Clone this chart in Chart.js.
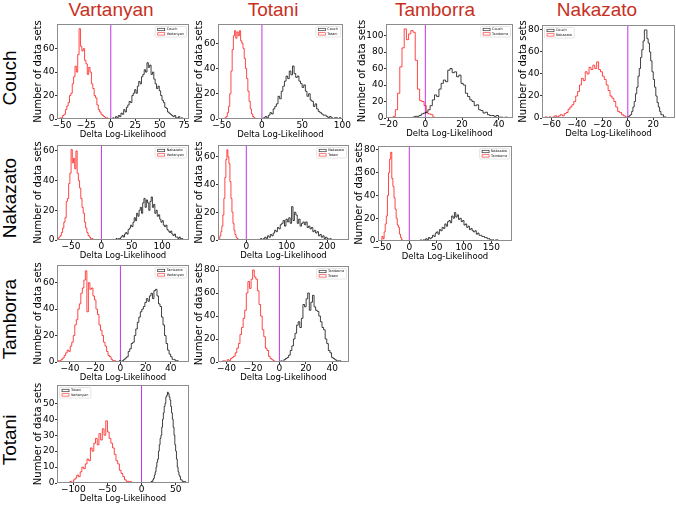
<!DOCTYPE html>
<html><head><meta charset="utf-8">
<script src="https://cdn.jsdelivr.net/npm/chart.js@4.4.1/dist/chart.umd.min.js"></script>
<style>
html,body{margin:0;padding:0;background:#fff;}
#wrap{position:relative;width:676px;height:505px;overflow:hidden;background:#fff;}
#wrap canvas{position:absolute;}
.col{position:absolute;top:0;font-family:"Liberation Sans",sans-serif;font-size:19px;line-height:19px;color:#c8301e;transform:translateX(-50%);white-space:nowrap;}
.row{position:absolute;font-family:"Liberation Sans",sans-serif;font-size:19px;line-height:19px;color:#000;white-space:nowrap;transform:translate(-50%,-50%) rotate(-90deg);}
</style></head><body><div id="wrap"></div>
<script>
// ---- labels ----
const columnModels = ['Vartanyan', 'Totani', 'Tamborra', 'Nakazato'];
const rowModels = ['Couch', 'Nakazato', 'Tamborra', 'Totani'];
const xTitle = 'Delta Log-Likelihood';
const yTitle = 'Number of data sets';

// ---- histogram data: bins = [first edge, bin width], counts per bin ----
// Couch (row) vs Vartanyan (column)
const couchVartanyanRedBins = [-52, 1.4];
const couchVartanyanRed = [1,1,3,4,8,11,14,20,22,30,36,45,40,55,77,62,58,60,50,47,38,44,40,30,26,20,18,12,8,6,4,3,2,1,1];
const couchVartanyanBlackBins = [2, 1.4];
const couchVartanyanBlack = [1,0,2,1,3,2,5,4,8,6,10,12,15,14,20,22,25,22,28,32,30,36,38,42,40,48,44,46,38,40,34,30,26,28,24,20,16,14,10,9,6,5,4,3,2,3,1,1,2,0,1];
const couchVartanyanXTicks = [-50, -25, 0, 25, 50, 75];
const couchVartanyanYTicks = [0, 20, 40, 60];

// Couch vs Totani
const couchTotaniRedBins = [-46, 1.5];
const couchTotaniRed = [1,2,5,10,20,38,55,66,70,64,69,66,70,62,60,56,48,40,32,22,14,8,4,2,1];
const couchTotaniBlackBins = [2, 2];
const couchTotaniBlack = [1,2,1,3,5,4,8,10,12,18,16,22,26,30,34,32,38,35,42,36,33,34,30,28,25,27,22,18,20,15,14,10,12,8,6,5,4,3,3,2,1,2,1,0,1,1,0,1];
const couchTotaniXTicks = [-50, 0, 50, 100];
const couchTotaniYTicks = [0, 20, 40, 60];

// Couch vs Tamborra
const couchTamborraRedBins = [-17.5, 1.2];
const couchTamborraRed = [2,10,30,62,85,108,95,102,106,104,70,35,21,20,15,6,5,4,1];
const couchTamborraBlackBins = [-7, 1.2];
const couchTamborraBlack = [1,2,2,3,5,6,7,10,15,22,28,26,35,42,46,44,58,60,55,56,50,52,42,40,30,26,22,20,15,16,10,9,6,7,4,3,3,2,3,1,1,0,1];
const couchTamborraXTicks = [-20, 0, 20, 40];
const couchTamborraYTicks = [0, 20, 40, 60, 80, 100];

// Couch vs Nakazato
const couchNakazatoRedBins = [-65, 1.5];
const couchNakazatoRed = [1,0,1,0,1,2,1,2,3,2,4,5,8,10,12,15,20,24,30,36,34,42,40,46,44,48,45,51,44,42,38,35,30,25,20,18,15,10,6,5,3,2,1];
const couchNakazatoBlackBins = [0, 1];
const couchNakazatoBlack = [1,2,3,6,10,15,22,28,38,45,55,62,70,80,80,72,68,60,52,42,35,28,20,14,10,6,3,3,1,1];
const couchNakazatoXTicks = [-60, -40, -20, 0, 20];
const couchNakazatoYTicks = [0, 20, 40, 60, 80];

// Nakazato vs Vartanyan
const nakazatoVartanyanRedBins = [-72, 2];
const nakazatoVartanyanRed = [1,2,3,5,8,12,15,26,28,38,45,61,52,55,48,60,45,40,35,28,22,18,12,8,5,3,2,1,1];
const nakazatoVartanyanBlackBins = [24, 2];
const nakazatoVartanyanBlack = [1,0,1,1,2,3,2,4,5,4,7,8,10,9,12,15,13,18,16,20,22,18,25,28,22,27,25,20,26,29,22,24,18,20,16,17,14,12,13,10,9,10,7,6,5,6,4,3,4,2,2,1,2,1,1];
const nakazatoVartanyanXTicks = [-50, 0, 50, 100];
const nakazatoVartanyanYTicks = [0, 20, 40, 60];

// Nakazato vs Totani
const nakazatoTotaniRedBins = [-68, 2.5];
const nakazatoTotaniRed = [1,3,6,10,18,30,45,58,65,60,55,42,30,20,12,7,4,2,1];
const nakazatoTotaniBlackBins = [35, 3.5];
const nakazatoTotaniBlack = [1,0,1,2,1,3,2,4,3,5,7,6,9,8,11,12,14,10,15,13,16,12,24,14,20,18,12,15,10,12,13,11,13,9,10,8,9,6,7,5,6,3,4,2,3,1,2,1,0,1];
const nakazatoTotaniXTicks = [0, 100, 200];
const nakazatoTotaniYTicks = [0, 20, 40, 60];

// Nakazato vs Tamborra
const nakazatoTamborraRedBins = [-50, 2];
const nakazatoTamborraRed = [4,2,8,15,22,40,60,72,78,55,48,38,28,20,14,12,6,3,1];
const nakazatoTamborraBlackBins = [20, 2.5];
const nakazatoTamborraBlack = [1,0,1,1,2,1,3,2,3,5,4,7,8,6,10,9,12,11,15,13,17,18,16,22,20,25,21,23,19,20,17,18,14,15,12,13,10,11,9,8,9,6,7,5,5,4,4,3,3,2,2,1,1,1,0,1,1];
const nakazatoTamborraXTicks = [-50, 0, 50, 100, 150];
const nakazatoTamborraYTicks = [0, 20, 40, 60, 80];

// Tamborra vs Vartanyan
const tamborraVartanyanRedBins = [-49.4, 1.2];
const tamborraVartanyanRed = [1,1,2,3,5,7,9,8,12,15,20,28,32,40,44,52,56,62,69,38,60,55,56,50,47,40,36,28,24,20,15,12,8,5,4,2,1,1];
const tamborraVartanyanBlackBins = [-1, 1.2];
const tamborraVartanyanBlack = [1,0,1,2,3,4,8,10,14,15,20,25,30,34,38,40,42,45,48,46,50,52,48,54,55,50,44,42,34,28,20,14,9,6,4,2,2,1,1];
const tamborraVartanyanXTicks = [-40, -20, 0, 20, 40];
const tamborraVartanyanYTicks = [0, 20, 40, 60];

// Tamborra vs Totani
const tamborraTotaniRedBins = [-43, 1.2];
const tamborraTotaniRed = [1,1,0,2,1,3,4,5,8,12,16,24,30,38,45,60,70,64,72,80,74,72,62,50,40,28,22,12,10,5,3,2,1];
const tamborraTotaniBlackBins = [1, 1.2];
const tamborraTotaniBlack = [1,0,2,3,4,6,10,14,20,25,32,35,30,38,50,48,55,60,45,52,58,48,45,44,40,35,30,28,20,16,10,8,4,3,2,1,1,1];
const tamborraTotaniXTicks = [-40, -20, 0, 20, 40];
const tamborraTotaniYTicks = [0, 20, 40, 60, 80];

// Totani vs Vartanyan
const totaniVartanyanRedBins = [-105, 2.5];
const totaniVartanyanRed = [1,0,2,3,5,4,7,10,9,12,15,14,22,20,25,28,24,31,27,34,30,39,32,28,25,22,18,14,12,8,6,4,2,1,1,1];
const totaniVartanyanBlackBins = [14, 1.2];
const totaniVartanyanBlack = [1,0,2,3,5,7,10,13,15,20,24,28,30,35,40,44,48,50,54,55,57,56,54,52,48,44,40,35,30,24,20,15,10,7,5,4,2,2,1,1,0,1];
const totaniVartanyanXTicks = [-100, -50, 0, 50];
const totaniVartanyanYTicks = [0, 10, 20, 30, 40, 50];

// ---- panel table (layout only, built from the arrays above) ----
const panels = [
  {r:0,c:0, red:[couchVartanyanRedBins,couchVartanyanRed], black:[couchVartanyanBlackBins,couchVartanyanBlack], xt:couchVartanyanXTicks, yt:couchVartanyanYTicks, xr:[-55,80], ymax:81, box:[57,24,189,119], side:'right', gap:25},
  {r:0,c:1, red:[couchTotaniRedBins,couchTotaniRed], black:[couchTotaniBlackBins,couchTotaniBlack], xt:couchTotaniXTicks, yt:couchTotaniYTicks, xr:[-54.6,100.7], ymax:75.3, box:[218,24,343,119], side:'right', gap:25},
  {r:0,c:2, red:[couchTamborraRedBins,couchTamborraRed], black:[couchTamborraBlackBins,couchTamborraBlack], xt:couchTamborraXTicks, yt:couchTamborraYTicks, xr:[-21.4,47.7], ymax:114, box:[386,24,513,118], side:'right', gap:30},
  {r:0,c:3, red:[couchNakazatoRedBins,couchNakazatoRed], black:[couchNakazatoBlackBins,couchNakazatoBlack], xt:couchNakazatoXTicks, yt:couchNakazatoYTicks, xr:[-67.5,37.1], ymax:84.5, box:[542,25,675,118], side:'left', gap:25},
  {r:1,c:0, red:[nakazatoVartanyanRedBins,nakazatoVartanyanRed], black:[nakazatoVartanyanBlackBins,nakazatoVartanyanBlack], xt:nakazatoVartanyanXTicks, yt:nakazatoVartanyanYTicks, xr:[-73.2,144.3], ymax:64, box:[57,145,189,240], side:'right', gap:25},
  {r:1,c:1, red:[nakazatoTotaniRedBins,nakazatoTotaniRed], black:[nakazatoTotaniBlackBins,nakazatoTotaniBlack], xt:nakazatoTotaniXTicks, yt:nakazatoTotaniYTicks, xr:[-70,254], ymax:68.4, box:[218,145,349,240], side:'right', gap:25},
  {r:1,c:2, red:[nakazatoTamborraRedBins,nakazatoTamborraRed], black:[nakazatoTamborraBlackBins,nakazatoTamborraBlack], xt:nakazatoTamborraXTicks, yt:nakazatoTamborraYTicks, xr:[-57.2,187.8], ymax:83.5, box:[378,146,512,241], side:'right', gap:25},
  {r:2,c:0, red:[tamborraVartanyanRedBins,tamborraVartanyanRed], black:[tamborraVartanyanBlackBins,tamborraVartanyanBlack], xt:tamborraVartanyanXTicks, yt:tamborraVartanyanYTicks, xr:[-50.3,54.4], ymax:73.4, box:[57,265,189,362], side:'right', gap:25},
  {r:2,c:1, red:[tamborraTotaniRedBins,tamborraTotaniRed], black:[tamborraTotaniBlackBins,tamborraTotaniBlack], xt:tamborraTotaniXTicks, yt:tamborraTotaniYTicks, xr:[-46.4,52.6], ymax:83.5, box:[218,266,349,362], side:'right', gap:25},
  {r:3,c:0, red:[totaniVartanyanRedBins,totaniVartanyanRed], black:[totaniVartanyanBlackBins,totaniVartanyanBlack], xt:totaniVartanyanXTicks, yt:totaniVartanyanYTicks, xr:[-124,69.6], ymax:61.5, box:[57,385,189,483], side:'left', gap:25}
];

const colHeaderX = [111, 273, 435, 597];
const rowLabelY = [78, 198, 319, 440];

Chart.defaults.font.family = '"DejaVu Sans", sans-serif';

function fmt(v) { return String(v).replace('-', '\u2212'); }

function stepPoints(bins, counts, lo, hi) {
  const e0 = bins[0], w = bins[1];
  const pts = [{x: lo, y: 0}, {x: e0, y: 0}];
  counts.forEach((c, i) => pts.push({x: e0 + i * w, y: c}));
  const end = e0 + counts.length * w;
  pts.push({x: end, y: 0});
  if (hi > end) pts.push({x: hi, y: 0});
  return pts;
}

const framePlugin = {
  id: 'frame',
  afterDatasetsDraw(chart) {
    const {ctx, chartArea: a} = chart;
    ctx.save();
    ctx.strokeStyle = '#8c8c8c';
    ctx.lineWidth = 1;
    ctx.strokeRect(Math.round(a.left) + 0.5, Math.round(a.top) + 0.5, Math.round(a.right - a.left) - 1, Math.round(a.bottom - a.top) - 1);
    ctx.restore();
  }
};

const miniLegend = {
  id: 'miniLegend',
  afterDraw(chart, args, opts) {
    if (!opts.labels) return;
    const {ctx, chartArea: a} = chart;
    ctx.save();
    ctx.font = '3.4px "DejaVu Sans"';
    const tw = Math.max(...opts.labels.map(t => ctx.measureText(t).width));
    const w = 2.5 + 7 + 2 + tw + 2.5, h = 10.5;
    const x = opts.side === 'left' ? a.left + 2.5 : a.right - 2.5 - w;
    const y = a.top + 2.5;
    ctx.fillStyle = 'rgba(255,255,255,0.85)';
    ctx.strokeStyle = '#d4d4d4';
    ctx.lineWidth = 0.6;
    ctx.beginPath();
    if (ctx.roundRect) ctx.roundRect(x, y, w, h, 1.2); else ctx.rect(x, y, w, h);
    ctx.fill(); ctx.stroke();
    opts.labels.forEach((t, i) => {
      const yy = y + 3 + i * 4.4;
      ctx.strokeStyle = opts.colors[i];
      ctx.lineWidth = 0.7;
      ctx.strokeRect(x + 2.5, yy - 1.2, 7, 2.4);
      ctx.fillStyle = '#000';
      ctx.textBaseline = 'middle';
      ctx.textAlign = 'left';
      ctx.fillText(t, x + 11.5, yy);
    });
    ctx.restore();
  }
};

const wrap = document.getElementById('wrap');
const blackColor = 'rgba(0,0,0,0.75)';
const redColor = 'rgba(255,0,0,0.72)';
const zeroColor = '#c433e8';

columnModels.forEach((m, i) => {
  const d = document.createElement('div');
  d.className = 'col'; d.textContent = m; d.style.left = colHeaderX[i] + 'px';
  wrap.appendChild(d);
});
rowModels.forEach((m, i) => {
  const d = document.createElement('div');
  d.className = 'row'; d.textContent = m; d.style.left = '9px'; d.style.top = rowLabelY[i] + 'px';
  wrap.appendChild(d);
});

panels.forEach(p => {
  const [L, T, R, B] = p.box;
  const wy = p.gap, hx = 20, padTop = 6, padRight = 8;
  const cl = L - wy, ct = T - padTop;
  const w = (R - L) + wy + padRight;
  const h = (B - T) + padTop + hx;
  const cv = document.createElement('canvas');
  cv.width = w; cv.height = h;
  cv.style.left = cl + 'px'; cv.style.top = ct + 'px';
  cv.style.width = w + 'px'; cv.style.height = h + 'px';
  wrap.appendChild(cv);
  const rEnd = p.red[0][0] + p.red[1].length * p.red[0][1];
  const bEnd = p.black[0][0] + p.black[1].length * p.black[0][1];
  const lo = Math.min(p.red[0][0], p.black[0][0]);
  const hi = Math.max(rEnd, bEnd);
  new Chart(cv, {
    type: 'line',
    data: {datasets: [
      {label: rowModels[p.r], data: stepPoints(p.black[0], p.black[1], lo, hi), borderColor: blackColor, borderWidth: 1, stepped: true, pointRadius: 0, fill: false},
      {label: columnModels[p.c], data: stepPoints(p.red[0], p.red[1], lo, hi), borderColor: redColor, borderWidth: 1, stepped: true, pointRadius: 0, fill: false},
      {label: 'zero', data: [{x: 0, y: 0}, {x: 0, y: p.ymax}], borderColor: zeroColor, borderWidth: 1, pointRadius: 0, fill: false}
    ]},
    options: {
      responsive: false, animation: false,
      layout: {padding: {left: 0, top: padTop, right: padRight, bottom: 0}},
      plugins: {
        legend: {display: false}, tooltip: {enabled: false},
        miniLegend: {labels: [rowModels[p.r], columnModels[p.c]], colors: ['#333', '#ff4040'], side: p.side}
      },
      scales: {
        x: {
          type: 'linear', bounds: 'data', min: p.xr[0], max: p.xr[1],
          afterFit: s => { s.height = hx; },
          afterBuildTicks: s => { s.ticks = p.xt.map(v => ({value: v})); },
          ticks: {autoSkip: false, maxRotation: 0, minRotation: 0, padding: 0, color: '#000', font: {size: 9, lineHeight: 1}, callback: v => fmt(v)},
          grid: {drawOnChartArea: false, drawTicks: true, tickLength: 2, color: '#000', lineWidth: 0.8},
          border: {display: false},
          title: {display: true, text: xTitle, color: '#000', font: {size: 8.5, lineHeight: 1}, padding: 0}
        },
        y: {
          type: 'linear', bounds: 'data', min: 0, max: p.ymax,
          afterFit: s => { s.width = wy; },
          afterBuildTicks: s => { s.ticks = p.yt.map(v => ({value: v})); },
          ticks: {autoSkip: false, padding: 0.5, color: '#000', font: {size: 9}, callback: v => fmt(v)},
          grid: {drawOnChartArea: false, drawTicks: true, tickLength: 2, color: '#000', lineWidth: 0.8},
          border: {display: false},
          title: {display: true, text: yTitle, color: '#000', font: {size: 10, lineHeight: 1.2}, padding: 0}
        }
      }
    },
    plugins: [framePlugin, miniLegend]
  });
});
</script></body></html>
